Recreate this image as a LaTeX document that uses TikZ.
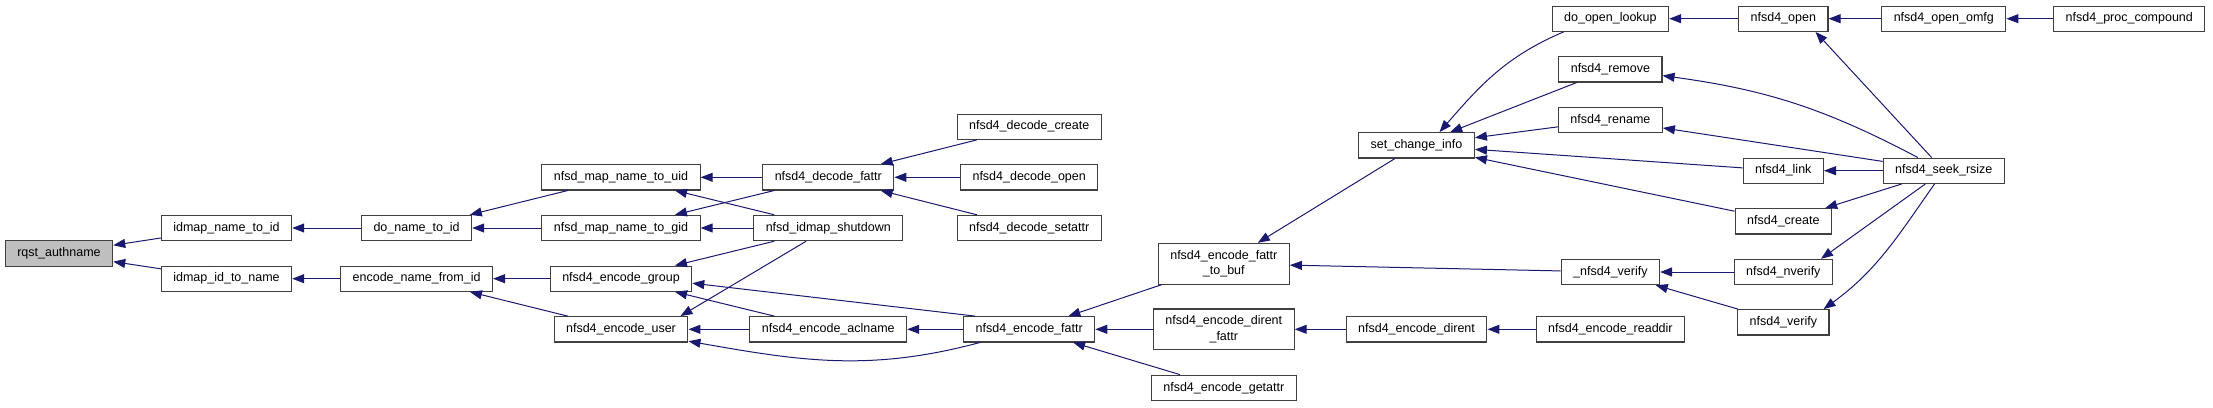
\documentclass[tikz,border=0pt]{standalone}
\usepackage{fontspec}
\setmainfont{Liberation Sans}
\definecolor{edgeblue}{RGB}{25,25,112}
\definecolor{boxgray}{RGB}{191,191,191}
\definecolor{boxline}{RGB}{64,64,64}
\usetikzlibrary{arrows.meta}

\begin{document}
\begin{tikzpicture}[x=1pt, y=1pt,
    fnbase/.style={draw=boxline, line width=1.1pt, fill=white, inner xsep=12pt, inner ysep=2pt,
        font=\fontsize{12.5}{15.5}\selectfont},
    fn/.style={fnbase, minimum height=25.3pt, text height=9pt, text depth=2.6pt},
    fntwo/.style={fnbase, align=center, minimum height=40.7pt},
    call/.style={draw=edgeblue, line width=1pt, -{Triangle[length=12pt,width=9pt]}}]
    \useasboundingbox (0,0) rectangle (2213,-407);
    % function boxes, one column per rank
    \node[fn, fill=boxgray] (rqst) at (59,-253.5) {rqst\_authname};
    \node[fn] (idn2i) at (226.5,-228) {idmap\_name\_to\_id};
    \node[fn] (idi2n) at (226.5,-278.7) {idmap\_id\_to\_name};
    \node[fn] (don2i) at (416.6,-228) {do\_name\_to\_id};
    \node[fn] (encnfi) at (416.6,-278.7) {encode\_name\_from\_id};
    \node[fn] (mapuid) at (621,-177.3) {nfsd\_map\_name\_to\_uid};
    \node[fn] (mapgid) at (621,-228) {nfsd\_map\_name\_to\_gid};
    \node[fn] (encgrp) at (621,-278.7) {nfsd4\_encode\_group};
    \node[fn] (encusr) at (621,-329.3) {nfsd4\_encode\_user};
    \node[fn] (decfattr) at (828.3,-177.3) {nfsd4\_decode\_fattr};
    \node[fn] (shutdown) at (828.3,-228) {nfsd\_idmap\_shutdown};
    \node[fn] (aclname) at (828.3,-329.3) {nfsd4\_encode\_aclname};
    \node[fn] (deccreate) at (1029.2,-126.7) {nfsd4\_decode\_create};
    \node[fn] (decopen) at (1029.2,-177.3) {nfsd4\_decode\_open};
    \node[fn] (decsetattr) at (1029.2,-228) {nfsd4\_decode\_setattr};
    \node[fn] (encfattr) at (1029.2,-329.3) {nfsd4\_encode\_fattr};
    \node[fntwo] (tobuf) at (1223.8,-263.7) {nfsd4\_encode\_fattr\\\_to\_buf};
    \node[fntwo] (direntfattr) at (1223.8,-329.3) {nfsd4\_encode\_dirent\\\_fattr};
    \node[fn] (getattr) at (1223.8,-387.8) {nfsd4\_encode\_getattr};
    \node[fn] (chginfo) at (1416.5,-145.3) {set\_change\_info};
    \node[fn] (dirent) at (1416.5,-329.3) {nfsd4\_encode\_dirent};
    \node[fn] (openlookup) at (1610.4,-18.7) {do\_open\_lookup};
    \node[fn] (remove) at (1610.4,-69.3) {nfsd4\_remove};
    \node[fn] (rename) at (1610.4,-120) {nfsd4\_rename};
    \node[fn] (uverify) at (1610.4,-272) {\_nfsd4\_verify};
    \node[fn] (readdir) at (1610.4,-329.3) {nfsd4\_encode\_readdir};
    \node[fn] (open) at (1783.3,-18.7) {nfsd4\_open};
    \node[fn] (link) at (1783.3,-170.7) {nfsd4\_link};
    \node[fn] (create) at (1783.3,-221.3) {nfsd4\_create};
    \node[fn] (nverify) at (1783.3,-272) {nfsd4\_nverify};
    \node[fn] (verify) at (1783.3,-322.3) {nfsd4\_verify};
    \node[fn] (omfg) at (1943.8,-18.7) {nfsd4\_open\_omfg};
    \node[fn] (seek) at (1943.8,-170.7) {nfsd4\_seek\_rsize};
    \node[fn] (compound) at (2129.3,-18.7) {nfsd4\_proc\_compound};
    % calls, caller -> callee
    \draw[call] (idn2i) -- (rqst);
    \draw[call] (idi2n) -- (rqst);
    \draw[call] (don2i) -- (idn2i);
    \draw[call] (encnfi) -- (idi2n);
    \draw[call] (mapuid) -- (don2i);
    \draw[call] (mapgid) -- (don2i);
    \draw[call] (encgrp) -- (encnfi);
    \draw[call] (encusr) -- (encnfi);
    \draw[call] (decfattr) -- (mapuid);
    \draw[call] (shutdown) -- (mapuid);
    \draw[call] (decfattr) -- (mapgid);
    \draw[call] (shutdown) -- (mapgid);
    \draw[call] (shutdown) -- (encgrp);
    \draw[call] (aclname) -- (encgrp);
    \draw[call] ([xshift=12pt]encfattr.north west) -- ([yshift=-4.5pt]encgrp.east);
    \draw[call] (shutdown) -- ([xshift=-8pt]encusr.north east);
    \draw[call] (aclname) -- (encusr);
    \draw[call] (encfattr) to[out=195,in=-10] (encusr);
    \draw[call] (deccreate) -- (decfattr);
    \draw[call] (decopen) -- (decfattr);
    \draw[call] (decsetattr) -- (decfattr);
    \draw[call] (encfattr) -- (aclname);
    \draw[call] (tobuf) -- (encfattr);
    \draw[call] (direntfattr) -- (encfattr);
    \draw[call] (getattr) -- (encfattr);
    \draw[call] (chginfo) -- (tobuf);
    \draw[call] (uverify) -- (tobuf);
    \draw[call] (dirent) -- (direntfattr);
    \draw[call] (readdir) -- (dirent);
    \draw[call] ([xshift=12pt]openlookup.south west) to[out=203,in=49] ([xshift=23pt]chginfo.north);
    \draw[call] (remove) -- (chginfo);
    \draw[call] (rename) -- (chginfo);
    \draw[call] (link) -- (chginfo);
    \draw[call] (create) -- (chginfo);
    \draw[call] (nverify) -- (uverify);
    \draw[call] (verify) -- (uverify);
    \draw[call] (open) -- (openlookup);
    \draw[call] (omfg) -- (open);
    \draw[call] (compound) -- (omfg);
    \draw[call] (seek) -- ([xshift=-13pt]open.south east);
    \draw[call] (seek) to[bend right=10] (remove);
    \draw[call] (seek) -- (rename);
    \draw[call] (seek) -- (link);
    \draw[call] (seek) -- (create);
    \draw[call] (seek) -- ([xshift=-12pt]nverify.north east);
    \draw[call] (seek) to[out=-125,in=36] ([xshift=-6pt]verify.north east);
\end{tikzpicture}
\end{document}
